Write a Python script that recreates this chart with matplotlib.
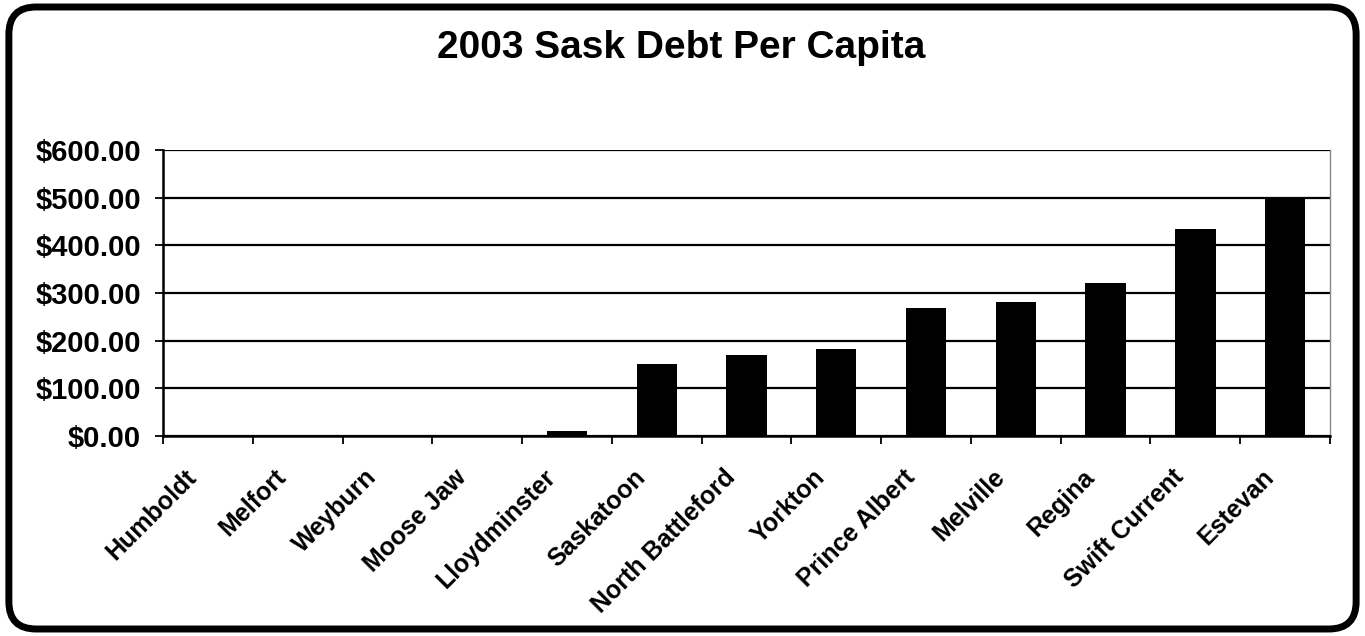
import matplotlib
matplotlib.use("Agg")
import matplotlib.pyplot as plt
from matplotlib.patches import FancyBboxPatch
from matplotlib.ticker import FuncFormatter, MultipleLocator
from matplotlib.transforms import ScaledTranslation

cities = ["Humboldt", "Melfort", "Weyburn", "Moose Jaw", "Lloydminster", "Saskatoon",
          "North Battleford", "Yorkton", "Prince Albert", "Melville", "Regina",
          "Swift Current", "Estevan"]
debt = [0, 1, 0, 1, 11, 152, 169, 182, 268, 281, 321, 435, 502]

plt.rcParams['font.family'] = ['Liberation Sans', 'DejaVu Sans']

fig = plt.figure(figsize=(13.65, 6.36), dpi=100)
fig.patch.set_facecolor('white')

# rounded outer border
border = FancyBboxPatch((0.0065, 0.011), 0.987, 0.978,
                        boxstyle="round,pad=0,rounding_size=0.02",
                        transform=fig.transFigure, fill=False,
                        edgecolor='black', linewidth=5, mutation_aspect=13.65/6.36)
fig.patches.append(border)

ax = fig.add_axes([163/1365, 1 - 436/636, (1330 - 163)/1365, (436 - 150)/636])
x = list(range(len(cities)))
ax.bar(x, debt, width=0.45, color='black', zorder=3)
ax.set_xlim(-0.5, len(cities) - 0.5)
ax.set_ylim(0, 600)
ax.yaxis.set_major_locator(MultipleLocator(100))
ax.yaxis.set_major_formatter(FuncFormatter(lambda v, p: f"${v:,.2f}"))
ax.grid(axis='y', color='black', linewidth=1.6, zorder=1)
ax.set_axisbelow(True)

ax.set_xticks(x)
ax.set_xticklabels(cities, rotation=45, ha='right', va='center', rotation_mode='anchor',
                   fontsize=18, fontweight='bold')
ax.tick_params(axis='x', length=0, pad=27)
off = ScaledTranslation(-15 / 100, 0, fig.dpi_scale_trans)
for lab in ax.get_xticklabels():
    lab.set_transform(lab.get_transform() + off)
ax.set_xticks([i - 0.5 for i in range(len(cities) + 1)], minor=True)
ax.tick_params(axis='x', which='minor', length=6, width=1.3, direction='out')
ax.tick_params(axis='y', length=6, width=1.3, direction='out', labelsize=21, pad=10)
for lab in ax.get_yticklabels():
    lab.set_fontweight('bold')

for s in ['left', 'bottom']:
    ax.spines[s].set_linewidth(1.8)
    ax.spines[s].set_color('black')
ax.spines['top'].set_visible(False)
ax.spines['right'].set_color('#888888')
ax.spines['right'].set_linewidth(1.0)

fig.text(681 / 1365, 1 - 48 / 636, "2003 Sask Debt Per Capita", ha='center', va='center',
         fontsize=28, fontweight='bold')

fig.savefig("out.png", dpi=100, facecolor='white')
